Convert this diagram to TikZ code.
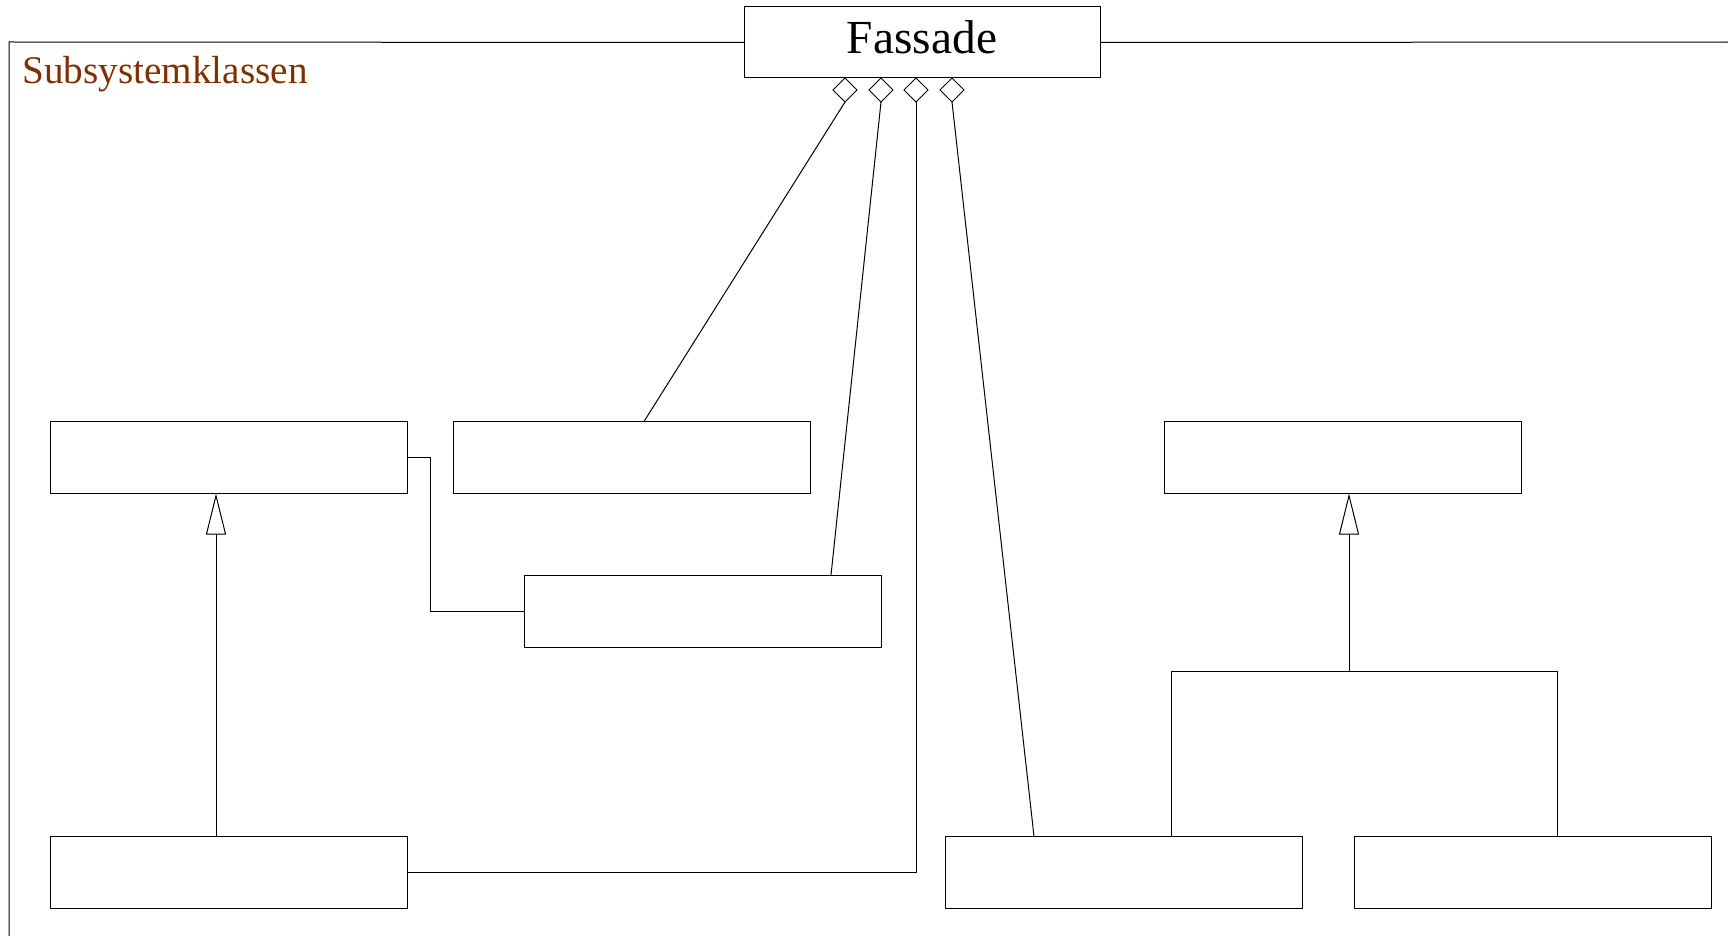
\documentclass[tikz,border=0pt]{standalone}
\usepackage{fontspec}
\setmainfont{Liberation Serif}
\usetikzlibrary{shapes.geometric,arrows.meta}
\definecolor{titlebrown}{RGB}{128,48,0}
\begin{document}
\begin{tikzpicture}[x=0.5pt,y=-0.5pt,
  cls/.style={draw, line width=0.5pt, minimum width=178.5pt, minimum height=36pt,
              inner sep=0pt, outer sep=0pt},
  agg/.style={draw, fill=white, diamond, aspect=1, line width=0.5pt,
              minimum width=12pt, minimum height=12pt, inner sep=0pt, outer sep=0pt},
  link/.style={line width=0.5pt},
  inherit/.style={line width=0.5pt, -{Triangle[open, fill=white, length=20.5pt, width=10pt]}}]
\useasboundingbox (0,0) rectangle (1728,936);

% facade class
\node[cls, minimum width=178pt, minimum height=35.5pt, text height=16pt, text depth=4.5pt,
      font=\fontsize{23.7pt}{26pt}\selectfont] (fas) at (922,42.5) {Fassade};

% subsystem package frame
\draw[link] (fas.west) -- (9,42) -- (9,940);
\draw[link] (fas.east) -- (1732,42);
\node[anchor=base west, inner sep=0pt, text=titlebrown,
      font=\fontsize{19.6pt}{22pt}\selectfont] (title) at (22,83.3) {Subsystemklassen};

% subsystem classes
\node[cls] (A) at (228.5,457.5) {};
\node[cls] (B) at (631.5,457.5) {};
\node[cls] (C) at (703,611) {};
\node[cls] (G) at (1343,457.5) {};
\node[cls] (D) at (228.5,872.5) {};
\node[cls] (E) at (1124,872.5) {};
\node[cls] (F) at (1532.5,872.5) {};

% aggregation diamonds below the facade
\node[agg] (d1) at (845,90) {};
\node[agg] (d2) at (881,90) {};
\node[agg] (d3) at (916,90) {};
\node[agg] (d4) at (952,90) {};

% attachment points
\coordinate (xB) at (644,0);
\coordinate (xC) at (831,0);
\coordinate (xE) at (1034,0);
\coordinate (xAC) at (430,0);
\coordinate (xDA) at (216,0);
\coordinate (jG) at (1349,671);
\coordinate (jE) at (1171,671);
\coordinate (jF) at (1557,671);

% aggregations
\draw[link] (d1.south) -- (B.north -| xB);
\draw[link] (d2.south) -- (C.north -| xC);
\draw[link] (D.east) -| (d3.south);
\draw[link] (d4.south) -- (E.north -| xE);

% association between A and C
\draw[link] (A.east) -- (A.east -| xAC) |- (C.west);

% generalisations
\draw[inherit] (D.north -| xDA) -- (A.south -| xDA);
\draw[link] (E.north -| jE) -- (jE) -- (jF) -- (F.north -| jF);
\draw[inherit] (jG) -- (G.south -| jG);
\end{tikzpicture}
\end{document}
